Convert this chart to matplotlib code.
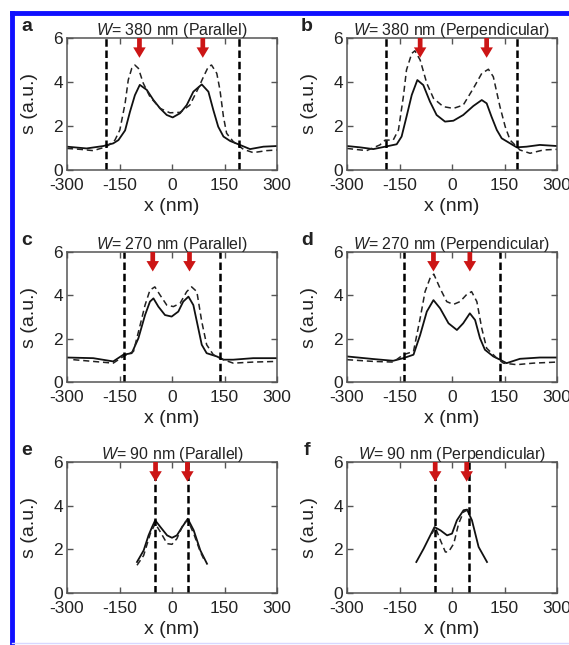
import matplotlib
matplotlib.use("Agg")
import matplotlib.pyplot as plt
from matplotlib.lines import Line2D

plt.rcParams["font.family"] = ["Liberation Sans", "DejaVu Sans"]
plt.rcParams["mathtext.fontset"] = "custom"
plt.rcParams["mathtext.it"] = "Liberation Sans:italic"
plt.rcParams["mathtext.rm"] = "Liberation Sans"

# -----------------------------------------------------------
# Data
# -----------------------------------------------------------
letters = ["a", "b", "c", "d", "e", "f"]
titles = [r"$W$= 380 nm (Parallel)", r"$W$= 380 nm (Perpendicular)",
          r"$W$= 270 nm (Parallel)", r"$W$= 270 nm (Perpendicular)",
          r"$W$= 90 nm (Parallel)", r"$W$= 90 nm (Perpendicular)"]

# wire edges (dashed vertical lines) and red arrow positions, nm
edges = [(-188, 192), (-188, 186), (-137, 137), (-137, 137), (-48, 46), (-50, 49)]
arrows = [(-93, 88), (-91, 99), (-55, 50), (-53, 51), (-47, 44), (-48, 42)]

# panel a
a_xs = [-300, -244, -196, -168, -153, -134, -120, -106, -92, -72, -53, -34, -15, 2,
        23, 42, 61, 85, 104, 118, 132, 147, 166, 194, 223, 261, 300]
a_ys = [1.06, 0.98, 1.09, 1.21, 1.36, 1.8, 2.65, 3.4, 3.87, 3.64, 3.18, 2.8, 2.5, 2.39,
        2.58, 2.95, 3.56, 3.89, 3.56, 2.73, 1.97, 1.52, 1.32, 1.14, 0.95, 1.06, 1.09]
a_xd = [-300, -263, -225, -187, -163, -149, -134, -125, -115, -106, -96, -82, -63, -34,
        -6, 23, 51, 75, 90, 104, 113, 128, 137, 147, 156, 175, 204, 232, 270, 300]
a_yd = [0.98, 0.94, 0.88, 1.06, 1.36, 1.82, 3.03, 4.09, 4.62, 4.77, 4.62, 3.94, 3.33, 2.8,
        2.6, 2.62, 2.95, 3.71, 4.24, 4.7, 4.77, 4.39, 3.64, 2.42, 1.67, 1.29, 0.94, 0.79, 0.88, 0.91]

# panel b
b_xs = [-300, -263, -225, -191, -158, -144, -130, -115, -99, -82, -63, -44, -20, 4,
        32, 61, 85, 99, 113, 128, 142, 166, 185, 213, 251, 300]
b_ys = [1.09, 1.03, 0.95, 1.06, 1.17, 1.52, 2.42, 3.41, 4.09, 3.86, 3.11, 2.5, 2.2, 2.24,
        2.5, 2.91, 3.18, 3.03, 2.42, 1.82, 1.44, 1.21, 1.03, 1.06, 1.14, 1.09]
b_xd = [-300, -244, -206, -191, -168, -153, -139, -130, -115, -106, -91, -72, -53, -25,
        4, 32, 61, 85, 104, 118, 137, 152, 166, 194, 223, 261, 300]
b_yd = [0.98, 0.88, 1.14, 1.36, 1.36, 1.82, 3.33, 4.55, 5.3, 5.42, 5.0, 3.94, 3.26, 2.88,
        2.8, 2.95, 3.71, 4.39, 4.58, 4.24, 2.88, 1.97, 1.36, 0.91, 0.76, 0.91, 0.94]

# panel c
c_xs = [-300, -225, -168, -139, -115, -96, -77, -63, -53, -39, -20, -1, 18, 32, 47,
        61, 71, 85, 99, 128, 147, 175, 232, 300]
c_ys = [1.13, 1.1, 0.95, 1.26, 1.33, 2.02, 3.09, 3.71, 3.86, 3.48, 3.09, 3.02, 3.25, 3.71, 3.94,
        3.55, 2.79, 1.72, 1.33, 1.18, 1.03, 1.03, 1.1, 1.1]
c_xd = [-282, -225, -168, -139, -110, -91, -77, -63, -49, -34, -15, 4, 23, 42, 56,
        71, 85, 99, 118, 147, 175, 232, 300]
c_yd = [1.03, 0.95, 0.87, 1.18, 1.41, 2.63, 3.55, 4.24, 4.39, 4.01, 3.55, 3.48, 3.63, 4.17, 4.39,
        4.17, 2.79, 1.72, 1.26, 1.03, 0.87, 0.92, 0.95]

# panel d
d_xs = [-300, -225, -168, -139, -110, -91, -72, -53, -34, -10, 14, 32, 51, 66, 80,
        94, 118, 137, 156, 194, 251, 300]
d_ys = [1.18, 1.06, 0.98, 1.1, 1.26, 2.17, 3.25, 3.78, 3.4, 2.71, 2.4, 2.71, 3.17, 2.86, 2.02,
        1.49, 1.18, 1.03, 0.87, 1.07, 1.13, 1.13]
d_xd = [-300, -225, -168, -139, -110, -91, -77, -63, -52, -34, -15, 4, 23, 42, 56,
        71, 85, 99, 128, 147, 185, 232, 300]
d_yd = [1.03, 0.95, 0.92, 1.26, 1.41, 2.94, 4.17, 4.78, 4.98, 4.32, 3.71, 3.58, 3.71, 4.04, 4.17,
        3.71, 2.48, 1.56, 1.1, 0.87, 0.8, 0.87, 0.92]

# panel e
e_xs = [-100, -81, -67, -57, -48, -33, -14, 0, 14, 29, 45, 62, 81, 100]
e_ys = [1.42, 1.95, 2.64, 3.02, 3.33, 3.02, 2.64, 2.53, 2.64, 3.02, 3.4, 2.87, 1.95, 1.34]
e_xd = [-100, -81, -62, -48, -33, -14, 0, 14, 33, 45, 62, 81, 95]
e_yd = [1.27, 1.72, 2.72, 3.18, 2.79, 2.26, 2.23, 2.49, 3.18, 3.33, 2.72, 1.88, 1.42]

# panel f
f_xs = [-102, -81, -62, -50, -33, -14, 0, 14, 33, 43, 57, 76, 100]
f_ys = [1.42, 2.03, 2.64, 3.02, 2.87, 2.64, 2.72, 3.33, 3.79, 3.82, 3.33, 2.11, 1.42]
f_xd = [-57, -48, -33, -19, -10, 5, 19, 33, 43, 52]
f_yd = [2.72, 3.02, 2.41, 1.88, 1.88, 2.26, 3.18, 3.71, 3.79, 3.6]

solid_x = [a_xs, b_xs, c_xs, d_xs, e_xs, f_xs]
solid_y = [a_ys, b_ys, c_ys, d_ys, e_ys, f_ys]
dash_x = [a_xd, b_xd, c_xd, d_xd, e_xd, f_xd]
dash_y = [a_yd, b_yd, c_yd, d_yd, e_yd, f_yd]

x_ticks = [-300, -150, 0, 150, 300]
y_ticks = [0, 2, 4, 6]

# -----------------------------------------------------------
# Figure layout (pixel positions of each axes)
# -----------------------------------------------------------
W, H = 569, 645
fig = plt.figure(figsize=(W / 100, H / 100), dpi=100)

cols = [(67, 277), (347, 557)]
rows = [(38, 170), (252, 382), (462, 593)]

# blue frame round the figure
fig.add_artist(Line2D([12 / W, 1], [1 - 13 / H, 1 - 13 / H], color="#1010ff", lw=3.5))
fig.add_artist(Line2D([12 / W, 12 / W], [0, 1 - 13 / H], color="#1010ff", lw=3.5))
fig.add_artist(Line2D([12 / W, 1], [2 / H, 2 / H], color="#d8d8ff", lw=1))

frame_col = "#555555"
text_col = "#222222"

for i in range(6):
    r, c = divmod(i, 2)
    l, rr = cols[c]
    t, b = rows[r]
    ax = fig.add_axes([l / W, 1 - b / H, (rr - l) / W, (b - t) / H])

    ax.plot(solid_x[i], solid_y[i], color="#111111", lw=1.3)
    ax.plot(dash_x[i], dash_y[i], color="#222222", lw=1.1, dashes=(4, 2.5))

    for e in edges[i]:
        ax.axvline(e, color="black", lw=1.8, dashes=(3, 1.5))

    for xa in arrows[i]:
        ax.annotate("", xy=(xa, 5.1), xytext=(xa, 6.0),
                    arrowprops=dict(facecolor="#cc1515", edgecolor="none",
                                    width=3.4, headwidth=9, headlength=7.5, shrink=0))

    ax.set_xlim(-300, 300)
    ax.set_ylim(0, 6)
    ax.set_xticks(x_ticks)
    ax.set_xticklabels([str(v) for v in x_ticks])
    ax.set_yticks(y_ticks)
    ax.tick_params(direction="in", top=True, right=True, length=4, width=1,
                   color=frame_col, labelsize=12.5, labelcolor=text_col)
    ax.tick_params(axis="x", pad=6)
    ax.tick_params(axis="y", pad=3)
    for s in ax.spines.values():
        s.set_color(frame_col)
        s.set_linewidth(1.1)

    ax.set_xlabel("x (nm)", fontsize=14, color=text_col)
    ax.set_ylabel("s (a.u.)", fontsize=14, color=text_col)
    ax.xaxis.set_label_coords(0.5, -0.215)
    ax.yaxis.set_label_coords(-0.14, 0.5)
    ax.set_title(titles[i], fontsize=11.5, color=text_col, pad=2)
    ax.text(-0.19, 1.09, letters[i], transform=ax.transAxes, fontsize=14,
            fontweight="bold", color=text_col, va="center", ha="center")

fig.savefig("out.png", dpi=100)
